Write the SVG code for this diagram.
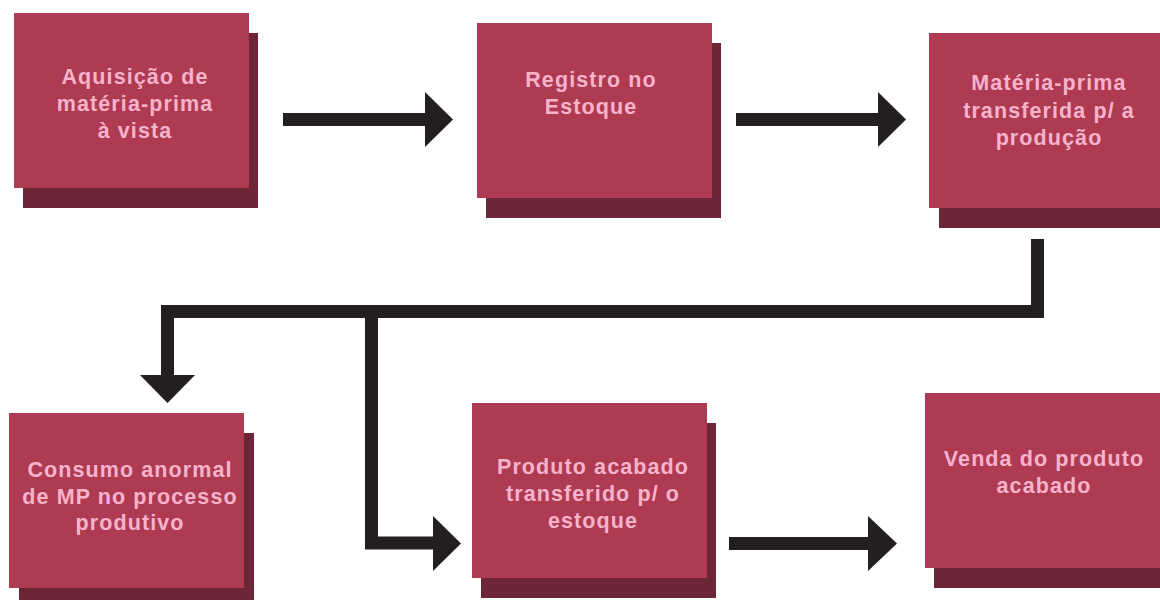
<svg xmlns="http://www.w3.org/2000/svg" width="1160" height="600" viewBox="0 0 1160 600">
<style>
.front{fill:#AE3B52}
.shadow{fill:#6D2638}
.lbl{font-family:"Liberation Sans",Arial,sans-serif;font-weight:bold;font-size:21.5px;fill:#F7B3CB;text-anchor:middle;letter-spacing:1.1px}
.line{fill:none;stroke:#231F20;stroke-width:13;stroke-linejoin:miter;stroke-linecap:butt}
.head{fill:#231F20}
</style>
<rect width="1160" height="600" fill="#FFFFFF"/>
<g id="n1">
<rect class="shadow" x="23" y="33" width="235" height="175"/>
<rect class="front" x="14" y="13" width="235" height="175"/>
<text class="lbl" x="135" y="84">Aquisição de</text>
<text class="lbl" x="135" y="111">matéria-prima</text>
<text class="lbl" x="135" y="138">à vista</text>
</g>
<g id="n2">
<rect class="shadow" x="486" y="43" width="235" height="175"/>
<rect class="front" x="477" y="23" width="235" height="175"/>
<text class="lbl" x="591" y="87">Registro no</text>
<text class="lbl" x="591" y="114">Estoque</text>
</g>
<g id="n3">
<rect class="shadow" x="939" y="53" width="235" height="175"/>
<rect class="front" x="929" y="33" width="235" height="175"/>
<text class="lbl" x="1049" y="90">Matéria-prima</text>
<text class="lbl" x="1049" y="118">transferida p/ a</text>
<text class="lbl" x="1049" y="145">produção</text>
</g>
<g id="n4">
<rect class="shadow" x="19" y="433" width="235" height="175"/>
<rect class="front" x="9" y="413" width="235" height="175"/>
<text class="lbl" x="130" y="477">Consumo anormal</text>
<text class="lbl" x="130" y="504">de MP no processo</text>
<text class="lbl" x="130" y="530">produtivo</text>
</g>
<g id="n5">
<rect class="shadow" x="481" y="423" width="235" height="175"/>
<rect class="front" x="472" y="403" width="235" height="175"/>
<text class="lbl" x="593" y="474">Produto acabado</text>
<text class="lbl" x="593" y="501">transferido p/ o</text>
<text class="lbl" x="593" y="528">estoque</text>
</g>
<g id="n6">
<rect class="shadow" x="934" y="413" width="235" height="175"/>
<rect class="front" x="925" y="393" width="235" height="175"/>
<text class="lbl" x="1044" y="466">Venda do produto</text>
<text class="lbl" x="1044" y="493">acabado</text>
</g>
<g id="connectors">
<path class="line" d="M283,119.5 H426"/>
<path class="head" d="M425,92 L453,119.5 L425,147 Z"/>
<path class="line" d="M736,119.5 H879"/>
<path class="head" d="M878,92 L906,119.5 L878,147 Z"/>
<path class="line" d="M729,543.5 H869"/>
<path class="head" d="M868,516 L897,543.5 L868,571 Z"/>
<path class="line" d="M1037.5,239 V311.5 H167.5 V376"/>
<path class="head" d="M140,375 L195,375 L167.5,403 Z"/>
<path class="line" d="M371.5,311.5 V543 H434"/>
<path class="head" d="M433,516 L461,543.5 L433,571 Z"/>
</g>
</svg>
